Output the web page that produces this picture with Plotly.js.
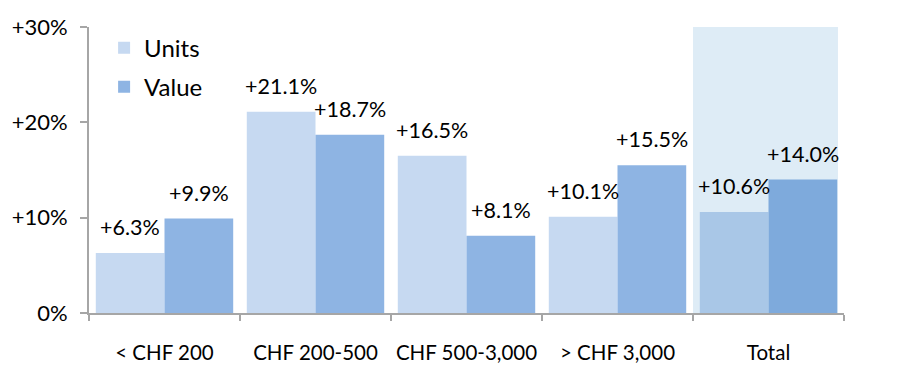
<!DOCTYPE html>
<html>
<head>
<meta charset="utf-8">
<script src="https://cdn.plot.ly/plotly-3.0.1.min.js"></script>
<style>html,body{margin:0;padding:0;background:#fff;}#chart{width:908px;height:390px;}</style>
</head>
<body>
<div id="chart"></div>
<script>
var categories = ["< CHF 200", "CHF 200-500", "CHF 500-3,000", "> CHF 3,000", "Total"];
var unitsValues = [6.3, 21.1, 16.5, 10.1, 10.6];
var valueValues = [9.9, 18.7, 8.1, 15.5, 14.0];
var yTickVals = [0, 10, 20, 30];
var yTickText = ["0%", "+10%", "+20%", "+30%"];

function fmt(v){ return "+" + v.toFixed(1) + "%"; }

var unitsColors = categories.map(function(c, i){ return i === categories.length - 1 ? "#a9c7e7" : "#c6d9f1"; });
var valueColors = categories.map(function(c, i){ return i === categories.length - 1 ? "#7eaadc" : "#8eb4e3"; });

var font = "Lato, 'Open Sans', sans-serif";
var W = 908, H = 390;
var margin = {l: 89, r: 64, t: 27, b: 77};
var bargap = 0.09;
var slot = (W - margin.l - margin.r) / categories.length;
var halfBar = slot * (1 - bargap) / 4;

var traces = [
  {type: "bar", name: "Units", legendgroup: "u", x: categories, y: unitsValues, marker: {color: unitsColors}},
  {type: "bar", name: "Value", legendgroup: "v", x: categories, y: valueValues, marker: {color: valueColors}}
];

var annotations = [];
categories.forEach(function(c, i){
  annotations.push({x: c, y: unitsValues[i], xref: "x", yref: "y", text: fmt(unitsValues[i]),
    showarrow: false, yanchor: "bottom", xanchor: "center", xshift: -halfBar, yshift: 11,
    font: {size: 21.5, color: "#000", family: font}});
  annotations.push({x: c, y: valueValues[i], xref: "x", yref: "y", text: fmt(valueValues[i]),
    showarrow: false, yanchor: "bottom", xanchor: "center", xshift: halfBar, yshift: 11,
    font: {size: 21.5, color: "#000", family: font}});
});

var layout = {
  width: W, height: H,
  margin: margin,
  paper_bgcolor: "#fff", plot_bgcolor: "rgba(0,0,0,0)",
  barmode: "group", bargap: bargap, bargroupgap: 0,
  font: {family: font, size: 21, color: "#000"},
  showlegend: true,
  legend: {x: 0.02, y: 1.005, xanchor: "left", yanchor: "top", bgcolor: "rgba(0,0,0,0)",
           font: {size: 24, color: "#000"}, itemwidth: 30, tracegroupgap: 5},
  xaxis: {type: "category", range: [-0.5, 4.5], showline: true, linecolor: "#a6a6a6", linewidth: 2,
          ticks: "outside", tickson: "boundaries", ticklen: 6, tickcolor: "#a6a6a6", tickwidth: 2,
          tickangle: 0, showgrid: false, zeroline: false, tickfont: {size: 20.5, color: "#000"}, ticklabelstandoff: 20},
  yaxis: {range: [0, 30], showline: true, linecolor: "#a6a6a6", linewidth: 2,
          ticks: "outside", ticklen: 7, tickcolor: "#a6a6a6", tickwidth: 2,
          tickvals: yTickVals, ticktext: yTickText, showgrid: false, zeroline: false,
          tickfont: {size: 22, color: "#000"}, ticklabelstandoff: 8},
  shapes: [{type: "rect", xref: "x", yref: "y", x0: 3.5, x1: 4.46, y0: -0.5, y1: 30,
            fillcolor: "#deecf6", line: {width: 0}, layer: "below"}],
  annotations: annotations
};

Plotly.newPlot("chart", traces, layout, {displayModeBar: false, staticPlot: true});
</script>
</body>
</html>
